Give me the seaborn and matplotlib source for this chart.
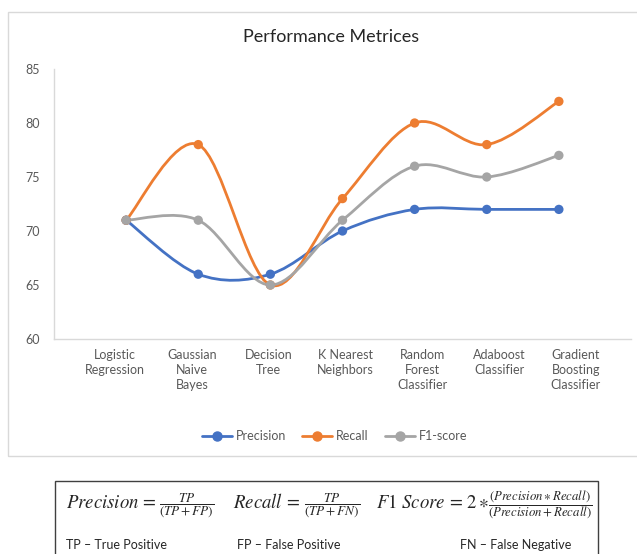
import numpy as np
import pandas as pd
import matplotlib
matplotlib.use("Agg")
import matplotlib.pyplot as plt
import seaborn as sns
from matplotlib.path import Path
from matplotlib.patches import PathPatch, Rectangle
from matplotlib.lines import Line2D

# data
models = ["Logistic\nRegression", "Gaussian\nNaive\nBayes", "Decision\nTree",
          "K Nearest\nNeighbors", "Random\nForest\nClassifier",
          "Adaboost\nClassifier", "Gradient\nBoosting\nClassifier"]
precision = [71, 66, 66, 70, 72, 72, 72]
recall = [71, 78, 65, 73, 80, 78, 82]
f1_score = [71, 71, 65, 71, 76, 75, 77]

metrics = ["Precision", "Recall", "F1-score"]
colors = ["#4472C4", "#ED7D31", "#A5A5A5"]

df = pd.DataFrame({
    "pos": list(range(len(models))) * 3,
    "value": precision + recall + f1_score,
    "metric": np.repeat(metrics, len(models)),
})

sns.set_style("white")
plt.rcParams["font.family"] = ["Lato", "DejaVu Sans"]
plt.rcParams["mathtext.fontset"] = "stix"

fig = plt.figure(figsize=(6.37, 5.54), dpi=100)
ax = fig.add_axes([54 / 637, 1 - 339 / 554, (631 - 54) / 637, (339 - 69) / 554])


def smooth_path(y):
    # excel-like smoothed line: bezier segments through every point
    x = np.arange(len(y), dtype=float)
    y = np.asarray(y, dtype=float)
    verts = [(x[0], y[0])]
    codes = [Path.MOVETO]
    n = len(y)
    for i in range(n - 1):
        x0, y0 = x[max(i - 1, 0)], y[max(i - 1, 0)]
        x3, y3 = x[min(i + 2, n - 1)], y[min(i + 2, n - 1)]
        c1 = (x[i] + (x[i + 1] - x0) / 6, y[i] + (y[i + 1] - y0) / 6)
        c2 = (x[i + 1] - (x3 - x[i]) / 6, y[i + 1] - (y3 - y[i]) / 6)
        verts += [c1, c2, (x[i + 1], y[i + 1])]
        codes += [Path.CURVE4] * 3
    return Path(verts, codes)


for name, col, vals in zip(metrics, colors, [precision, recall, f1_score]):
    ax.add_patch(PathPatch(smooth_path(vals), fill=False, edgecolor=col,
                           lw=2, capstyle="round", joinstyle="round", zorder=2))

sns.scatterplot(data=df, x="pos", y="value", hue="metric", palette=colors,
                s=45, edgecolor="none", legend=False, ax=ax, zorder=3)

ax.set_xlim(-1, 7)
ax.set_ylim(60, 85)
ax.set_yticks(range(60, 86, 5))
ax.set_xticks(np.arange(len(models)) * 1.064 - 0.15)
ax.set_xticklabels(models, linespacing=1.3)
ax.tick_params(axis="both", length=0, labelsize=9, colors="#595959")
ax.tick_params(axis="y", pad=10)
ax.tick_params(axis="x", pad=7)
ax.set_xlabel("")
ax.set_ylabel("")
for s in ["top", "right"]:
    ax.spines[s].set_visible(False)
for s in ["left", "bottom"]:
    ax.spines[s].set_color("#d9d9d9")
    ax.spines[s].set_linewidth(1)

fig.text(0.52, 1 - 37 / 554, "Performance Metrices", ha="center", va="center",
         fontsize=13, color="#262626")

handles = [Line2D([], [], color=c, lw=2, marker="o", markersize=6.5) for c in colors]
fig.legend(handles, metrics, loc="center", bbox_to_anchor=(0.525, 1 - 436 / 554),
           ncol=3, frameon=False, fontsize=9, labelcolor="#595959",
           handlelength=2.4, handletextpad=0.3, columnspacing=1.3)

# chart border and formula box
fig.patches.append(Rectangle((8 / 637, 1 - 456 / 554), 1.0, 444 / 554,
                             transform=fig.transFigure, fill=False,
                             edgecolor="#d9d9d9", lw=1))
fig.patches.append(Rectangle((55 / 637, -0.05), (598 - 55) / 637, 0.05 + 73 / 554,
                             transform=fig.transFigure, fill=False,
                             edgecolor="#404040", lw=1))

# formulas: left side big, fractions smaller
by = 1 - 508 / 554
fy = 1 - 505 / 554
fig.text(66 / 637, by, r"$Precision\,=$", fontsize=13.5, va="baseline")
fig.text(159 / 637, fy, r"$\dfrac{TP}{(TP+FP)}$", fontsize=9.5, va="center")
fig.text(233 / 637, by, r"$Recall\,=$", fontsize=13.5, va="baseline")
fig.text(304 / 637, fy, r"$\dfrac{TP}{(TP+FN)}$", fontsize=9.5, va="center")
fig.text(376 / 637, by, r"$F1\ Score\,=\,2\ast$", fontsize=13.5, va="baseline")
fig.text(488 / 637, fy, r"$\dfrac{(Precision\ast Recall)}{(Precision+Recall)}$",
         fontsize=9.2, va="center")

ty = 1 - 545 / 554
fig.text(66 / 637, ty, "TP – True Positive", fontsize=9, va="center", color="#262626")
fig.text(237 / 637, ty, "FP – False Positive", fontsize=9, va="center", color="#262626")
fig.text(460 / 637, ty, "FN – False Negative", fontsize=9, va="center", color="#262626")

fig.savefig("out.png", dpi=100)
